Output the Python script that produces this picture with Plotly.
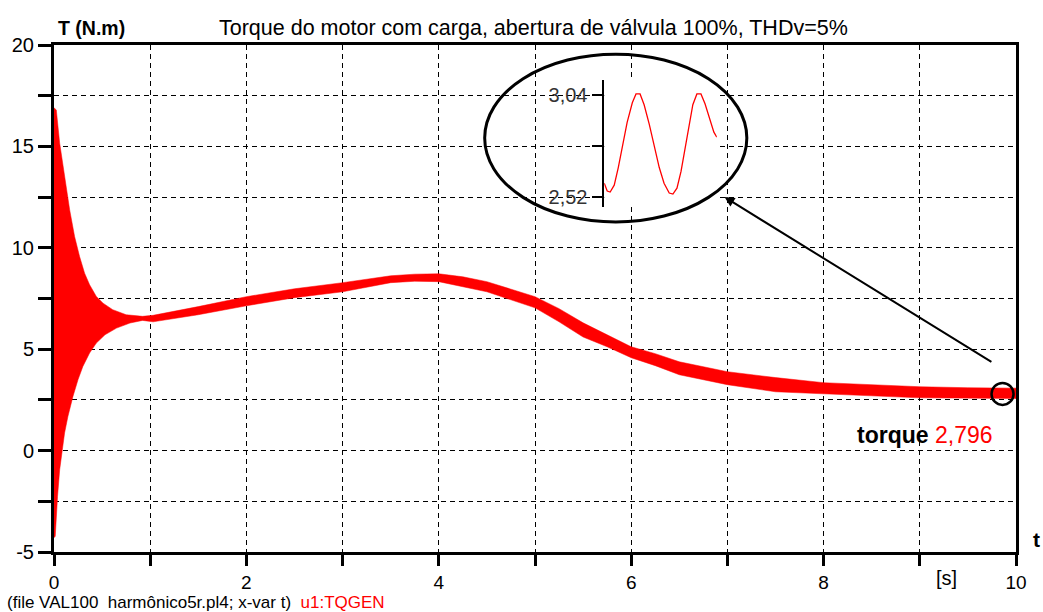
import plotly.graph_objects as go

# ---- data ----
t_upper = [0.0, 0.024, 0.059, 0.093, 0.128, 0.163, 0.214, 0.266, 0.318, 0.37, 0.44, 0.51,
           0.61, 0.75, 0.92, 1.03, 1.5, 2.0, 2.5, 3.0, 3.5, 3.75, 4.0, 4.25, 4.5, 5.0, 5.25,
           5.5, 5.75, 6.0, 6.25, 6.5, 7.0, 7.5, 8.0, 8.5, 9.0, 9.5, 10.0]
torque_upper = [16.9, 16.8, 15.16, 14.0, 13.0, 11.87, 10.56, 9.57, 8.75, 8.18, 7.6, 7.27,
                6.95, 6.7, 6.62, 6.67, 7.1, 7.59, 7.98, 8.28, 8.62, 8.7, 8.72, 8.57, 8.33,
                7.59, 7.0, 6.3, 5.71, 5.12, 4.78, 4.38, 3.89, 3.6, 3.35, 3.25, 3.15, 3.1, 3.08]

t_lower = [0.0, 0.013, 0.037, 0.059, 0.087, 0.11, 0.145, 0.197, 0.25, 0.30, 0.37, 0.44,
           0.53, 0.65, 0.79, 0.92, 1.03, 1.5, 2.0, 2.5, 3.0, 3.5, 3.75, 4.0, 4.25, 4.5,
           5.0, 5.25, 5.5, 5.75, 6.0, 6.25, 6.5, 7.0, 7.5, 8.0, 8.5, 9.0, 9.5, 10.0]
torque_lower = [-4.3, -4.22, -2.25, -0.94, 0.05, 0.87, 1.69, 2.67, 3.5, 4.15, 4.81, 5.3,
                5.71, 6.04, 6.29, 6.42, 6.35, 6.7, 7.14, 7.54, 7.83, 8.28, 8.35, 8.33, 8.08,
                7.83, 7.04, 6.35, 5.6, 5.12, 4.58, 4.19, 3.74, 3.25, 2.9, 2.81, 2.7, 2.6,
                2.58, 2.57]

# zoomed detail (inset), time in ms
inset_t = [0, 0.8, 1.6, 2.7, 3.8, 4.9, 6.2, 7.6, 8.6, 9.7, 10.8, 12.2, 13.5, 14.9, 16.2,
           17.6, 18.6, 19.7, 20.8, 21.9, 23.0, 24.0, 25.1, 26.2, 27.3, 28.6, 29.7, 30.5]
inset_torque = [2.59, 2.55, 2.545, 2.58, 2.67, 2.78, 2.90, 3.00, 3.045, 3.045, 2.99, 2.89,
                2.78, 2.67, 2.59, 2.54, 2.535, 2.565, 2.65, 2.76, 2.89, 2.99, 3.045, 3.045,
                2.995, 2.92, 2.85, 2.825]
inset_ticks = [2.52, 2.78, 3.04]
inset_ticktext = ["2,52", "", "3,04"]

x_ticks = list(range(0, 11))
x_ticktext = ["0", "", "2", "", "4", "", "6", "", "8", "", "10"]
y_ticks = [-5, -2.5, 0, 2.5, 5, 7.5, 10, 12.5, 15, 17.5, 20]
y_ticktext = ["-5", "", "0", "", "5", "", "10", "", "15", "", "20"]

final_t = 9.86
final_value = 2.796

FONT = "Liberation Sans, Arial, sans-serif"

fig = go.Figure()

# oscillating torque band (envelope)
fig.add_trace(go.Scatter(
    x=t_upper + t_lower[::-1],
    y=torque_upper + torque_lower[::-1],
    fill="toself", fillcolor="#ff0000", mode="lines",
    line=dict(color="#ff0000", width=0.5), hoverinfo="skip", showlegend=False))

# marker circle at the final value
fig.add_trace(go.Scatter(
    x=[final_t], y=[final_value], mode="markers",
    marker=dict(symbol="circle-open", size=22, color="black", line=dict(width=2.5)),
    showlegend=False))

# inset
fig.add_trace(go.Scatter(
    x=inset_t, y=inset_torque, mode="lines", xaxis="x2", yaxis="y2",
    line=dict(color="#ff0000", width=1.3), showlegend=False))

grid = dict(showgrid=True, gridcolor="black", gridwidth=1.2, griddash="5px,4px")

fig.update_layout(
    width=1043, height=612,
    margin=dict(l=51, r=27, t=45, b=60),
    paper_bgcolor="white", plot_bgcolor="white",
    font=dict(family=FONT, size=20, color="black"),
    xaxis=dict(range=[0, 10], tickvals=x_ticks, ticktext=x_ticktext,
               ticks="outside", ticklen=11, tickwidth=3, tickcolor="black",
               showline=True, linecolor="black", linewidth=3, mirror=True,
               zeroline=False, tickfont=dict(size=19), **grid),
    yaxis=dict(range=[-5, 20], tickvals=y_ticks, ticktext=y_ticktext,
               ticks="outside", ticklen=13, tickwidth=3, tickcolor="black",
               showline=True, linecolor="black", linewidth=3, mirror=True,
               zeroline=False, tickfont=dict(size=20), **grid),
    xaxis2=dict(domain=[0.572, 0.689], range=[0, 30.5], anchor="y2",
                visible=False),
    yaxis2=dict(domain=[0.6805, 0.931], range=[2.469, 3.116], anchor="x2",
                tickvals=inset_ticks, ticktext=inset_ticktext,
                ticks="outside", ticklen=11, tickwidth=1.5, tickcolor="black",
                showline=True, linecolor="black", linewidth=1.5,
                showgrid=False, zeroline=False, tickfont=dict(size=20, color="#333")),
    shapes=[dict(type="circle", xref="paper", yref="paper",
                 x0=0.4477, x1=0.7202, y0=0.651, y1=0.982,
                 line=dict(color="black", width=3))],
    annotations=[
        dict(text="Torque do motor com carga, abertura de válvula 100%, THDv=5%",
             xref="paper", yref="paper", x=0.498, y=1.0335, showarrow=False,
             xanchor="center", yanchor="middle", font=dict(size=21.5)),
        dict(text="<b>T (N.m)</b>", xref="paper", yref="paper", x=0.002, y=1.0335,
             showarrow=False, xanchor="left", yanchor="middle", font=dict(size=19.5)),
        dict(text="<b>t</b>", xref="paper", yref="paper", x=1.0218, y=0.0237,
             showarrow=False, xanchor="center", yanchor="middle", font=dict(size=21)),
        dict(text="[s]", xref="paper", yref="paper", x=0.9275, y=-0.0513,
             showarrow=False, xanchor="center", yanchor="middle", font=dict(size=20)),
        dict(text="(file VAL100&nbsp; harmônico5r.pl4; x-var t)&nbsp; "
                  "<span style='color:#ff0000'>u1:TQGEN</span>",
             xref="paper", yref="paper", x=-0.0505, y=-0.1, showarrow=False,
             xanchor="left", yanchor="middle", font=dict(size=17)),
        dict(text="<b>torque</b> <span style='color:#ff0000'>2,796</span>",
             x=9.78, y=0.79, xref="x", yref="y", showarrow=False,
             xanchor="right", yanchor="middle", font=dict(size=23)),
        dict(text="", x=6.97, y=12.5, xref="x", yref="y",
             ax=9.76, ay=4.33, axref="x", ayref="y",
             showarrow=True, arrowhead=2, arrowsize=1, arrowwidth=2,
             arrowcolor="black"),
    ],
)

fig.write_html("out.html", config={"displayModeBar": False},
               post_script="document.body.style.margin='0';document.body.style.padding='0';")
